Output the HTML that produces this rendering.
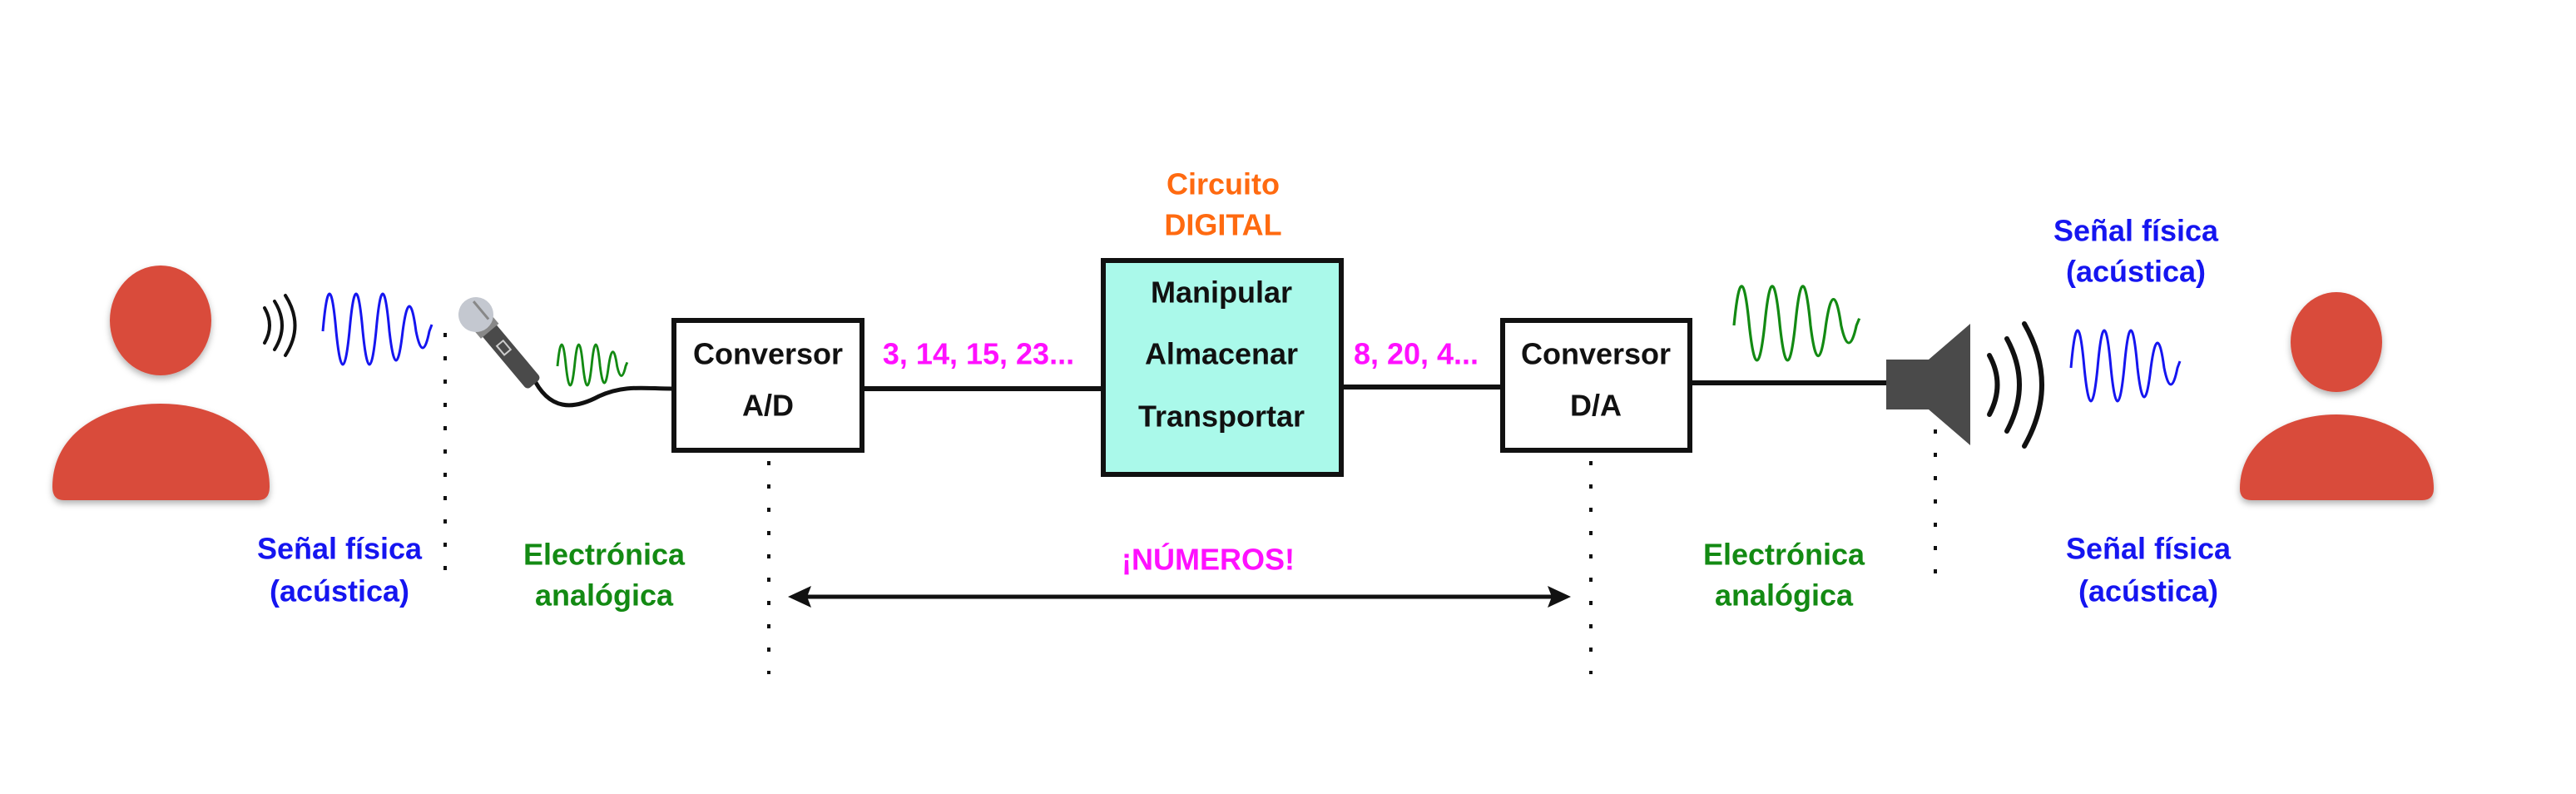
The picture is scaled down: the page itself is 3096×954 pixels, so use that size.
<!DOCTYPE html>
<html><head><meta charset="utf-8"><style>
html,body{margin:0;padding:0;background:#fff;}
svg{display:block;}
text{font-family:"Liberation Sans",sans-serif;font-size:36px;font-weight:bold;text-anchor:middle;dominant-baseline:central;}
</style></head><body>
<svg width="3096" height="954" viewBox="0 0 3096 954" xmlns="http://www.w3.org/2000/svg">
<defs>
<filter id="sh" x="-20%" y="-20%" width="140%" height="140%"><feDropShadow dx="0" dy="4" stdDeviation="4" flood-color="#000" flood-opacity="0.3"/></filter>
<path id="wv" d="M0,0 Q8,-90 16,0 Q24,80 32,0 Q40,-90 48,0 Q56,80 64,0 Q72,-90 80,0 Q88,70 96,0 Q104,-60 112,0 Q120,40 128,0 L131,-8" fill="none"/>
</defs>
<rect width="3096" height="954" fill="#fff"/>

<g fill="#d94b3b" filter="url(#sh)">
<ellipse cx="193" cy="385" rx="61" ry="66"/>
<path d="M77,601 Q63,601 63,585 C63,520 125,485 193,485 C261,485 324,520 324,585 Q324,601 310,601 Z"/>
</g>
<g fill="#d94b3b" filter="url(#sh)">
<ellipse cx="2808" cy="411" rx="55" ry="60"/>
<path d="M2706,601 Q2692,601 2692,587 C2692,530 2748,498 2808,498 C2868,498 2925,530 2925,587 Q2925,601 2911,601 Z"/>
</g>

<g fill="none" stroke="#111" stroke-width="4" stroke-linecap="round">
<path d="M318,370 Q330,391 318,412"/>
<path d="M330,362 Q348,391 330,420"/>
<path d="M343,355 Q366,391 343,427"/>
</g>

<use href="#wv" transform="translate(388,398)" stroke="#1515f0" stroke-width="3"/>
<use href="#wv" transform="translate(2489,442)" stroke="#1515f0" stroke-width="3"/>
<use href="#wv" transform="translate(670,440) scale(0.64,0.58)" stroke="#138a13" stroke-width="4.5"/>
<use href="#wv" transform="translate(2084,391) scale(1.15,1.05)" stroke="#138a13" stroke-width="2.8"/>

<path d="M640,452 C660,495 690,492 720,476 C750,462 775,467 807,467" fill="none" stroke="#111" stroke-width="5"/>
<g transform="translate(572,378) rotate(50)">
<rect x="14" y="-11" width="95" height="22" rx="5" fill="#4a4a4a"/>
<rect x="14" y="-14" width="12" height="28" fill="#888"/>
<circle cx="0" cy="0" r="21" fill="#c4c8d0"/>
<line x1="-14" y1="-8" x2="14" y2="-8" stroke="#888" stroke-width="3"/>
<rect x="45" y="-5" width="14" height="10" fill="none" stroke="#ccc" stroke-width="2"/>
</g>

<g stroke="#111" stroke-width="6">
<line x1="1036" y1="467" x2="1324" y2="467"/>
<line x1="1612" y1="465" x2="1803" y2="465"/>
<line x1="2031" y1="460" x2="2267" y2="460"/>
</g>

<rect x="810" y="385" width="226" height="156" fill="#fff" stroke="#111" stroke-width="6"/>
<rect x="1326" y="313" width="286" height="257" fill="#aaf9ea" stroke="#111" stroke-width="6"/>
<rect x="1806" y="385" width="225" height="156" fill="#fff" stroke="#111" stroke-width="6"/>

<path d="M2267,432 L2318,432 L2368,389 L2368,535 L2318,492 L2267,492 Z" fill="#4a4a4a"/>
<g fill="none" stroke="#111" stroke-width="6" stroke-linecap="round">
<path d="M2391,427 Q2410,462 2391,498"/>
<path d="M2412,407 Q2442,462 2412,518"/>
<path d="M2433,389 Q2475,462 2433,536"/>
</g>

<g stroke="#111" stroke-width="4" stroke-dasharray="5 23">
<line x1="535" y1="400" x2="535" y2="690"/>
<line x1="924" y1="554" x2="924" y2="810"/>
<line x1="1912" y1="554" x2="1912" y2="810"/>
<line x1="2326" y1="516" x2="2326" y2="690"/>
</g>

<line x1="965" y1="717" x2="1870" y2="717" stroke="#111" stroke-width="5"/>
<path d="M947,717 L975,704 L970,717 L975,730 Z" fill="#111"/>
<path d="M1888,717 L1860,704 L1865,717 L1860,730 Z" fill="#111"/>

<g fill="#111">
<text x="923" y="425">Conversor</text>
<text x="923" y="487">A/D</text>
<text x="1918" y="425">Conversor</text>
<text x="1918" y="487">D/A</text>
<text x="1468" y="351">Manipular</text>
<text x="1468" y="425">Almacenar</text>
<text x="1468" y="500">Transportar</text>
</g>
<g fill="#ff6a10">
<text x="1470" y="221">Circuito</text>
<text x="1470" y="270">DIGITAL</text>
</g>
<g fill="#ff10ff">
<text x="1176" y="425">3, 14, 15, 23...</text>
<text x="1702" y="425">8, 20, 4...</text>
<text x="1452" y="672">¡NÚMEROS!</text>
</g>
<g fill="#1515f0">
<text x="408" y="659">Señal física</text>
<text x="408" y="710">(acústica)</text>
<text x="2567" y="277">Señal física</text>
<text x="2567" y="326">(acústica)</text>
<text x="2582" y="659">Señal física</text>
<text x="2582" y="710">(acústica)</text>
</g>
<g fill="#138a13">
<text x="726" y="666">Electrónica</text>
<text x="726" y="715">analógica</text>
<text x="2144" y="666">Electrónica</text>
<text x="2144" y="715">analógica</text>
</g>
</svg>
</body></html>
